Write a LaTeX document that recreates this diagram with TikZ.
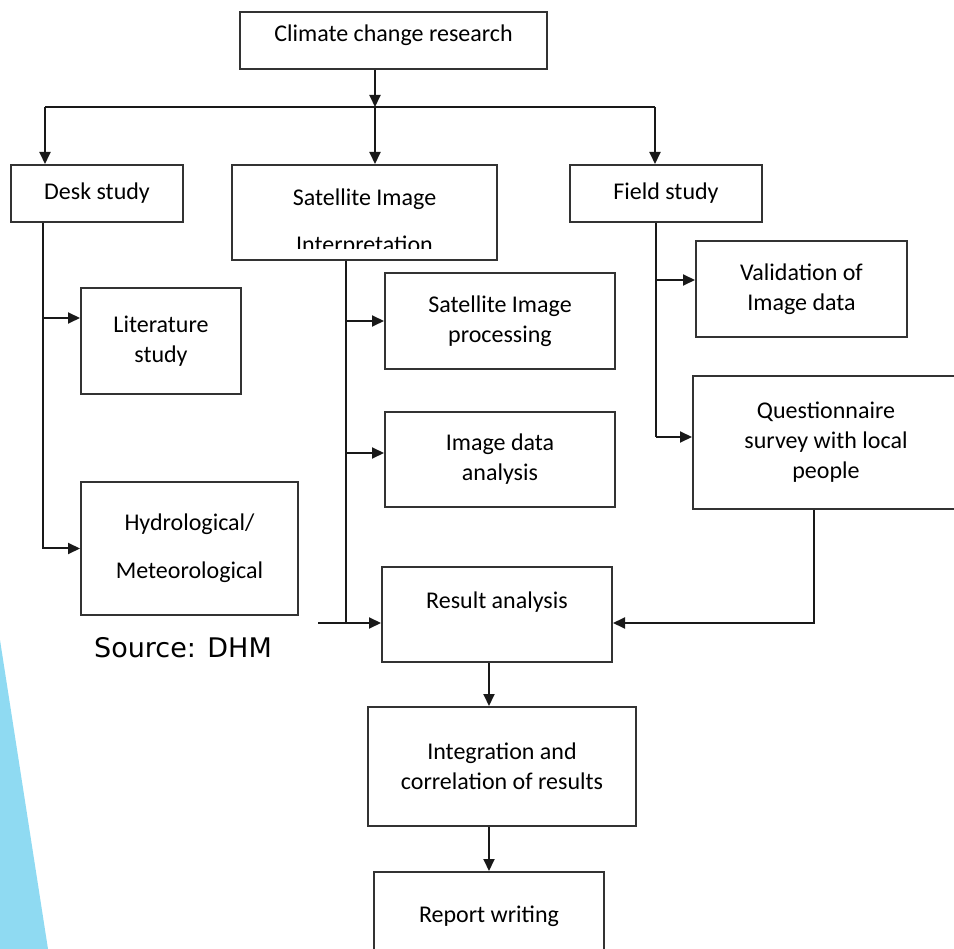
\documentclass[tikz,border=0pt]{standalone}
\usepackage{fontspec}
\setmainfont{Carlito}
\newfontfamily\srcfont{DejaVu Sans}
\usetikzlibrary{arrows.meta}
\definecolor{slideblue}{RGB}{143,218,242}
\tikzset{
    block/.style={
        draw=black!80,
        line width=2pt,
        rectangle,
        align=center,
        inner sep=0pt,
        font=\fontsize{24}{30}\selectfont,
    },
    wire/.style={line width=2pt, black!90},
    link/.style={wire, -{Triangle[length=12pt,width=11pt]}},
}
\newcommand\liftup[2]{\raisebox{#1}[\height][\depth]{#2}}

\begin{document}
\begin{tikzpicture}[x=1pt, y=-1pt]
   \useasboundingbox (0,0) rectangle (954,949);
   \fill[slideblue] (0,640) -- (48,949) -- (0,949) -- cycle;
   % top level
   \node[block, minimum width=307pt, minimum height=57pt] (crr) at (393.5,40.5) {\liftup{5pt}{Climate change research}};
   \node[block, minimum width=172pt, minimum height=57pt] (desk) at (97,193.5) {Desk study};
   \node[block, minimum width=265pt, minimum height=95pt] (sat) at (364.5,212.5) {\liftup{13pt}{Satellite Image}};
   \begin{scope}
      \clip (232,165) rectangle (497,249);
      \node[font=\fontsize{24}{30}\selectfont, inner sep=0pt, anchor=base] (sat-b) at (364.5,253) {Interpretation};
   \end{scope}
   \node[block, minimum width=192pt, minimum height=57pt] (field) at (666,193.5) {Field study};
   % second level
   \node[block, minimum width=160pt, minimum height=106pt] (lit) at (161,341) {Literature\\study};
   \node[block, minimum width=217pt, minimum height=133pt] (hyd) at (189.5,548.5) {Hydrological/\\[18pt]Meteorological};
   \node[block, minimum width=230pt, minimum height=96pt] (sip) at (500,321) {Satellite Image\\processing};
   \node[block, minimum width=230pt, minimum height=95pt] (ida) at (500,459.5) {Image data\\analysis};
   \node[block, minimum width=211pt, minimum height=96pt] (val) at (801.5,289) {Validation of\\Image data};
   \node[block, minimum width=266pt, minimum height=133pt] (que) at (826,442.5) {Questionnaire\\survey with local\\people};
   % results
   \node[block, minimum width=230pt, minimum height=95pt] (res) at (497,614.5) {\liftup{12pt}{Result analysis}};
   \node[block, minimum width=268pt, minimum height=119pt] (integ) at (502,766.5) {Integration and\\correlation of results};
   \node[block, minimum width=230pt, minimum height=88pt] (rep) at (489,916) {Report writing};
   \node[font=\srcfont\fontsize{27}{32}\selectfont, inner sep=0pt, anchor=base] (src) at (183,657) {Source: DHM};
   % junctions
   \coordinate (bus) at (375,107);
   \coordinate (busL) at (45,107);
   \coordinate (busR) at (655,107);
   \coordinate (dlit) at (43,318);
   \coordinate (sida) at (346,453);
   \coordinate (sres) at (318,623);
   \coordinate (fval) at (656,280);
   \coordinate (fque) at (656,437);
   \coordinate (qout) at (814,623);
   \coordinate (mid) at (489,0);
   % connectors
   \draw[link] (crr.south -| bus) -- (bus);
   \draw[wire] (busL) -- (busR);
   \draw[link] (busL) -- (busL |- desk.north);
   \draw[link] (bus) -- (bus |- sat.north);
   \draw[link] (busR) -- (busR |- field.north);
   \draw[link] (desk.south -| dlit) |- (hyd.west);
   \draw[link] (dlit) -- (dlit -| lit.west);
   \draw[wire] (sat.south -| sida) -- (sida |- sres);
   \draw[link] (sida |- sip.west) -- (sip.west);
   \draw[link] (sida) -- (sida -| ida.west);
   \draw[link] (sres) -- (sres -| res.west);
   \draw[wire] (field.south -| fval) -- (fque);
   \draw[link] (fval) -- (fval -| val.west);
   \draw[link] (fque) -- (fque -| que.west);
   \draw[link] (que.south -| qout) |- (sres -| res.east);
   \draw[link] (res.south -| mid) -- (integ.north -| mid);
   \draw[link] (integ.south -| mid) -- (rep.north -| mid);
\end{tikzpicture}
\end{document}
